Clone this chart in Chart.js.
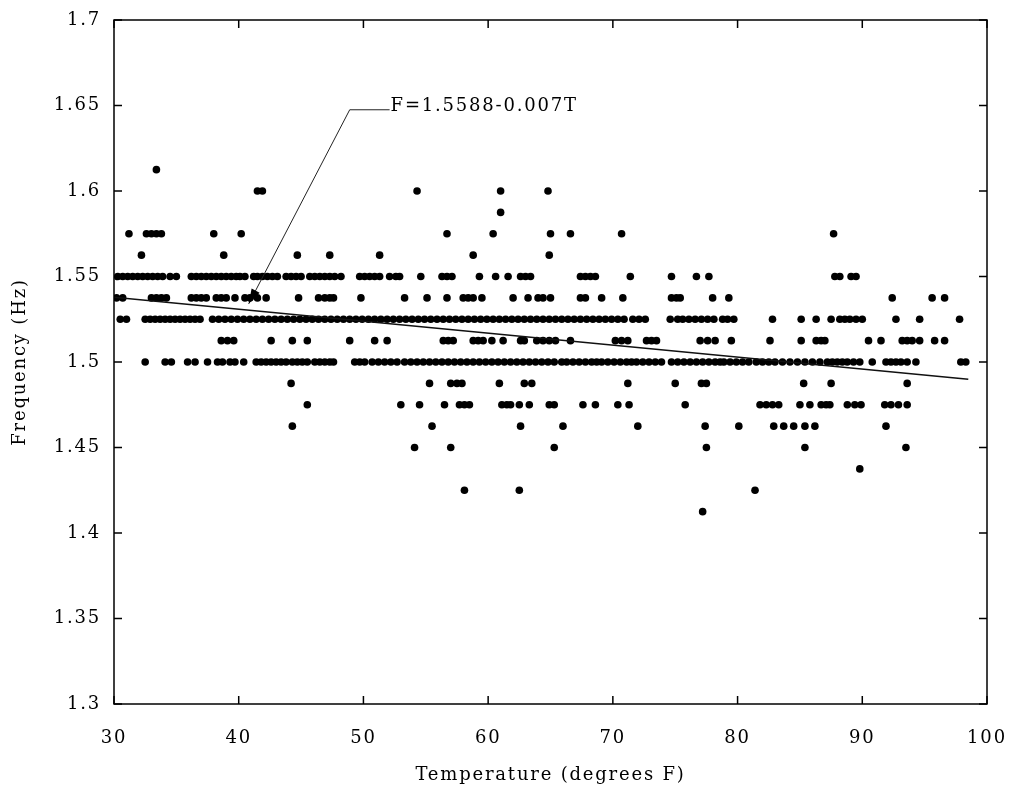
<!DOCTYPE html>
<html>
<head>
<meta charset="utf-8">
<script src="https://cdn.jsdelivr.net/npm/chart.js@4.4.1/dist/chart.umd.min.js"></script>
<style>
  body { margin: 0; background: #fff; }
  #wrap { width: 1010px; height: 792px; }
</style>
</head>
<body>
<div id="wrap"><canvas id="chart-freq-temp" width="1010" height="792"></canvas></div>
<script>
const levels = [1.6125, 1.6, 1.5875, 1.575, 1.5625, 1.55, 1.5375, 1.525, 1.5125, 1.5, 1.4875, 1.475, 1.4625, 1.45, 1.4375, 1.425, 1.4125];

const t16125 = [33.4];
const t1600 = [41.5, 41.9, 54.3, 61.0, 64.8];
const t15875 = [61.0];
const t1575 = [31.2, 32.6, 33.0, 33.4, 33.8, 38.0, 40.2, 56.7, 60.4, 65.0, 66.6, 70.7, 87.7];
const t15625 = [32.2, 38.8, 44.7, 47.3, 51.3, 58.8, 64.9];
const t1550 = [30.3, 30.7, 31.1, 31.5, 31.9, 32.3, 32.7, 33.1, 33.5, 33.9, 34.5, 35.0,
  36.2, 36.6, 37.0, 37.4, 37.8, 38.2, 38.6, 39.0, 39.4, 39.8, 40.1, 40.5, 41.2,
  41.5, 41.9, 42.3, 42.7, 43.1, 43.8, 44.2, 44.6, 45.0, 45.7, 46.1, 46.5, 46.9, 47.3, 47.7,
  48.2, 49.7, 50.1, 50.5, 50.9, 51.3, 52.1, 52.6, 52.9, 54.6, 56.3, 56.7, 57.1,
  59.3, 60.6, 61.6, 62.6, 63.0, 63.4, 67.4, 67.8, 68.2, 68.6, 71.4, 74.7, 76.7, 77.7,
  87.8, 88.2, 89.1, 89.5];
const t15375 = [30.2, 30.7, 33.0, 33.4, 33.8, 34.2, 36.2, 36.6, 37.0, 37.4, 38.2, 38.6, 39.0,
  39.7, 40.5, 40.9, 41.5, 42.2, 44.8, 46.4, 46.9, 47.3, 47.6, 49.8, 53.3, 55.1, 56.7,
  58.0, 58.4, 58.8, 59.5, 62.0, 63.2, 64.0, 64.4, 65.0, 67.4, 67.8, 69.1, 70.8,
  74.7, 75.1, 75.4, 78.0, 79.3, 92.4, 95.6, 96.6];
const t1525 = [30.5, 31.0, 32.5, 32.9, 33.3, 33.7, 34.1, 34.5, 34.9, 35.3, 35.7, 36.1, 36.5, 36.9,
  37.9, 38.4, 38.9, 39.4, 39.9, 40.4, 40.9, 41.4, 41.9, 42.4, 42.9, 43.4, 43.9, 44.4, 44.9,
  45.4, 45.9, 46.4, 46.9, 47.4, 47.9, 48.4, 48.9, 49.4, 49.9, 50.4, 50.9, 51.4, 51.9, 52.4,
  52.9, 53.4, 53.9, 54.4, 54.9, 55.4, 55.9, 56.4, 56.9, 57.4, 57.9, 58.4, 58.9, 59.4, 59.9,
  60.4, 60.9, 61.4, 61.9, 62.4, 62.9, 63.4, 63.9, 64.4, 64.9, 65.4, 65.9, 66.4, 66.9, 67.4,
  67.9, 68.4, 68.9, 69.4, 69.9, 70.4, 70.9, 71.6, 72.1, 72.6,
  74.6, 75.2, 75.6, 76.1, 76.6, 77.1, 77.6, 78.1, 78.8, 79.2, 79.7,
  82.8, 85.1, 86.3, 87.5, 88.2, 88.6, 89.0, 89.5, 90.0, 92.7, 94.6, 97.8];
const t15125 = [38.6, 39.1, 39.6, 42.6, 44.3, 45.5, 48.9, 50.9, 51.9, 56.4, 56.8, 57.2, 58.8,
  59.2, 59.6, 60.3, 61.2, 62.6, 62.9, 63.9, 64.4, 64.9, 65.4, 66.6, 70.2, 70.7, 71.2,
  72.7, 73.1, 73.5, 77.0, 77.6, 78.2, 79.5, 82.6, 85.1, 86.3, 86.7, 87.0, 90.5, 91.5,
  93.2, 93.6, 94.0, 94.6, 95.8, 96.6];
const t1500 = [32.5, 34.1, 34.6, 35.9, 36.5, 37.5, 38.3, 38.7, 39.3, 39.7, 40.4,
  41.4, 41.8, 42.2, 42.6, 43.0, 43.4, 43.8, 44.3, 44.7, 45.1, 45.5, 46.1, 46.5, 46.9, 47.3, 47.6,
  49.3, 49.7, 50.1, 50.7, 51.2, 51.7, 52.2, 52.7,
  53.3, 53.8, 54.3, 54.8, 55.3, 55.8, 56.3, 56.8, 57.3, 57.8, 58.3, 58.8, 59.3, 59.8, 60.3,
  60.8, 61.3, 61.8, 62.3, 62.8, 63.3, 63.8, 64.3, 64.8, 65.3, 65.9, 66.3, 66.8, 67.3, 67.8,
  68.3, 68.7, 69.1, 69.6, 70.1, 70.6, 71.1, 71.5, 71.9, 72.4, 72.9, 73.4, 73.9,
  74.7, 75.2, 75.7, 76.2, 76.7, 77.2, 77.7, 78.2, 78.6, 78.9, 79.4, 79.9, 80.4, 80.9,
  81.5, 82.0, 82.5, 83.0, 83.6, 84.2, 84.8, 85.4, 86.0, 86.6, 87.2, 87.6, 88.0, 88.4, 88.8,
  89.3, 89.8, 90.8, 91.9, 92.3, 92.7, 93.1, 93.6, 94.3, 97.9, 98.3];
const t14875 = [44.2, 55.3, 57.0, 57.5, 57.9, 60.9, 62.9, 63.5, 71.2, 75.0, 77.1, 77.5, 85.3, 87.5, 93.6];
const t1475 = [45.5, 53.0, 54.5, 56.5, 57.7, 58.1, 58.5, 61.1, 61.5, 61.8, 62.5, 63.3, 64.9, 65.3,
  67.6, 68.6, 70.4, 71.3, 75.8, 81.8, 82.3, 82.8, 83.3, 85.0, 85.8, 86.7, 87.1, 87.4,
  88.8, 89.4, 89.9, 91.8, 92.3, 92.9, 93.6];
const t14625 = [44.3, 55.5, 62.6, 66.0, 72.0, 77.4, 80.1, 82.9, 83.7, 84.5, 85.4, 86.2, 91.9];
const t1450 = [54.1, 57.0, 65.3, 77.5, 85.4, 93.5];
const t14375 = [89.8];
const t1425 = [58.1, 62.5, 81.4];
const t14125 = [77.2];

const rowTemps = [t16125, t1600, t15875, t1575, t15625, t1550, t15375, t1525, t15125,
  t1500, t14875, t1475, t14625, t1450, t14375, t1425, t14125];

// least squares line as drawn (end points)
const fitT = [30, 98.5];
const fitF = [1.5378, 1.4899];
const fitLabel = 'F=1.5588-0.007T';

// axis ticks
const xTicks = [30, 40, 50, 60, 70, 80, 90, 100];
const yTicks = [1.3, 1.35, 1.4, 1.45, 1.5, 1.55, 1.6, 1.65, 1.7];
const yTickLabels = ['1.3', '1.35', '1.4', '1.45', '1.5', '1.55', '1.6', '1.65', '1.7'];

const points = [];
levels.forEach((f, i) => {
  rowTemps[i].forEach(t => points.push({ x: t, y: f }));
});

const FONT = 'DejaVu Serif';
const FSIZE = 18;
const SPACING = '1.8px';

// wide old-style lettering like the original figure
const spacing = {
  id: 'spacing',
  beforeInit(chart) { chart.ctx.letterSpacing = SPACING; },
  beforeDraw(chart) { chart.ctx.letterSpacing = SPACING; }
};

// box with inward ticks + the equation callout
const boxAndNote = {
  id: 'boxAndNote',
  afterDatasetsDraw(chart) {
    const { ctx, chartArea: a, scales: { x, y } } = chart;
    ctx.save();
    ctx.strokeStyle = '#000';
    ctx.lineWidth = 1.5;
    ctx.strokeRect(a.left, a.top, a.right - a.left, a.bottom - a.top);
    const tl = 8;
    ctx.beginPath();
    xTicks.forEach(v => {
      const px = x.getPixelForValue(v);
      ctx.moveTo(px, a.bottom); ctx.lineTo(px, a.bottom - tl);
      ctx.moveTo(px, a.top); ctx.lineTo(px, a.top + tl);
    });
    yTicks.forEach(v => {
      const py = y.getPixelForValue(v);
      ctx.moveTo(a.left, py); ctx.lineTo(a.left + tl, py);
      ctx.moveTo(a.right, py); ctx.lineTo(a.right - tl, py);
    });
    ctx.stroke();

    // callout
    const elbowX = x.getPixelForValue(48.9), elbowY = y.getPixelForValue(1.6475);
    const endX = x.getPixelForValue(52.1);
    const tipX = x.getPixelForValue(40.8), tipY = y.getPixelForValue(1.534);
    ctx.lineWidth = 1;
    ctx.strokeStyle = '#222';
    ctx.beginPath();
    ctx.moveTo(endX, elbowY);
    ctx.lineTo(elbowX, elbowY);
    ctx.lineTo(tipX, tipY);
    ctx.stroke();
    const ang = Math.atan2(tipY - elbowY, tipX - elbowX);
    const hl = 15, hw = 4.5;
    ctx.beginPath();
    ctx.moveTo(tipX, tipY);
    ctx.lineTo(tipX - hl * Math.cos(ang) + hw * Math.sin(ang), tipY - hl * Math.sin(ang) - hw * Math.cos(ang));
    ctx.lineTo(tipX - hl * Math.cos(ang) - hw * Math.sin(ang), tipY - hl * Math.sin(ang) + hw * Math.cos(ang));
    ctx.closePath();
    ctx.fillStyle = '#000';
    ctx.fill();
    ctx.font = FSIZE + 'px "' + FONT + '"';
    ctx.textBaseline = 'middle';
    ctx.textAlign = 'left';
    ctx.fillText(fitLabel, endX + 1, elbowY - 3);
    ctx.restore();
  }
};

const ctx = document.getElementById('chart-freq-temp');
new Chart(ctx, {
  type: 'scatter',
  data: {
    datasets: [
      {
        label: 'fit',
        type: 'line',
        data: fitT.map((t, i) => ({ x: t, y: fitF[i] })),
        borderColor: '#111',
        borderWidth: 1.5,
        pointRadius: 0,
        fill: false,
        order: 0
      },
      {
        label: 'measured',
        data: points,
        backgroundColor: '#000',
        borderWidth: 0,
        pointRadius: 3.8,
        pointHoverRadius: 3.8,
        order: 1
      }
    ]
  },
  options: {
    responsive: false,
    animation: false,
    layout: { padding: { left: 0, right: 23, top: 20, bottom: 0 } },
    plugins: { legend: { display: false }, tooltip: { enabled: false } },
    scales: {
      x: {
        type: 'linear',
        min: 30, max: 100,
        afterBuildTicks: s => { s.ticks = xTicks.map(v => ({ value: v })); },
        afterFit: s => { s.height = 88; s.paddingLeft = 0; s.paddingRight = 0; },
        grid: { display: false },
        border: { display: false },
        ticks: { color: '#000', font: { family: FONT, size: FSIZE }, padding: 16, maxRotation: 0 },
        title: { display: true, text: 'Temperature (degrees F)', color: '#000', font: { family: FONT, size: FSIZE }, padding: { top: 4, bottom: 6 } }
      },
      y: {
        type: 'linear',
        min: 1.3, max: 1.7,
        afterBuildTicks: s => { s.ticks = yTicks.map(v => ({ value: v })); },
        afterFit: s => { s.width = 114; s.paddingTop = 0; s.paddingBottom = 0; },
        grid: { display: false },
        border: { display: false },
        ticks: {
          color: '#000', font: { family: FONT, size: FSIZE }, padding: 5,
          callback: v => yTickLabels[yTicks.findIndex(t => Math.abs(t - v) < 1e-9)]
        },
        title: { display: true, text: 'Frequency (Hz)', color: '#000', font: { family: FONT, size: FSIZE }, padding: { top: 10, bottom: 0 } }
      }
    }
  },
  plugins: [spacing, boxAndNote]
});
</script>
</body>
</html>
